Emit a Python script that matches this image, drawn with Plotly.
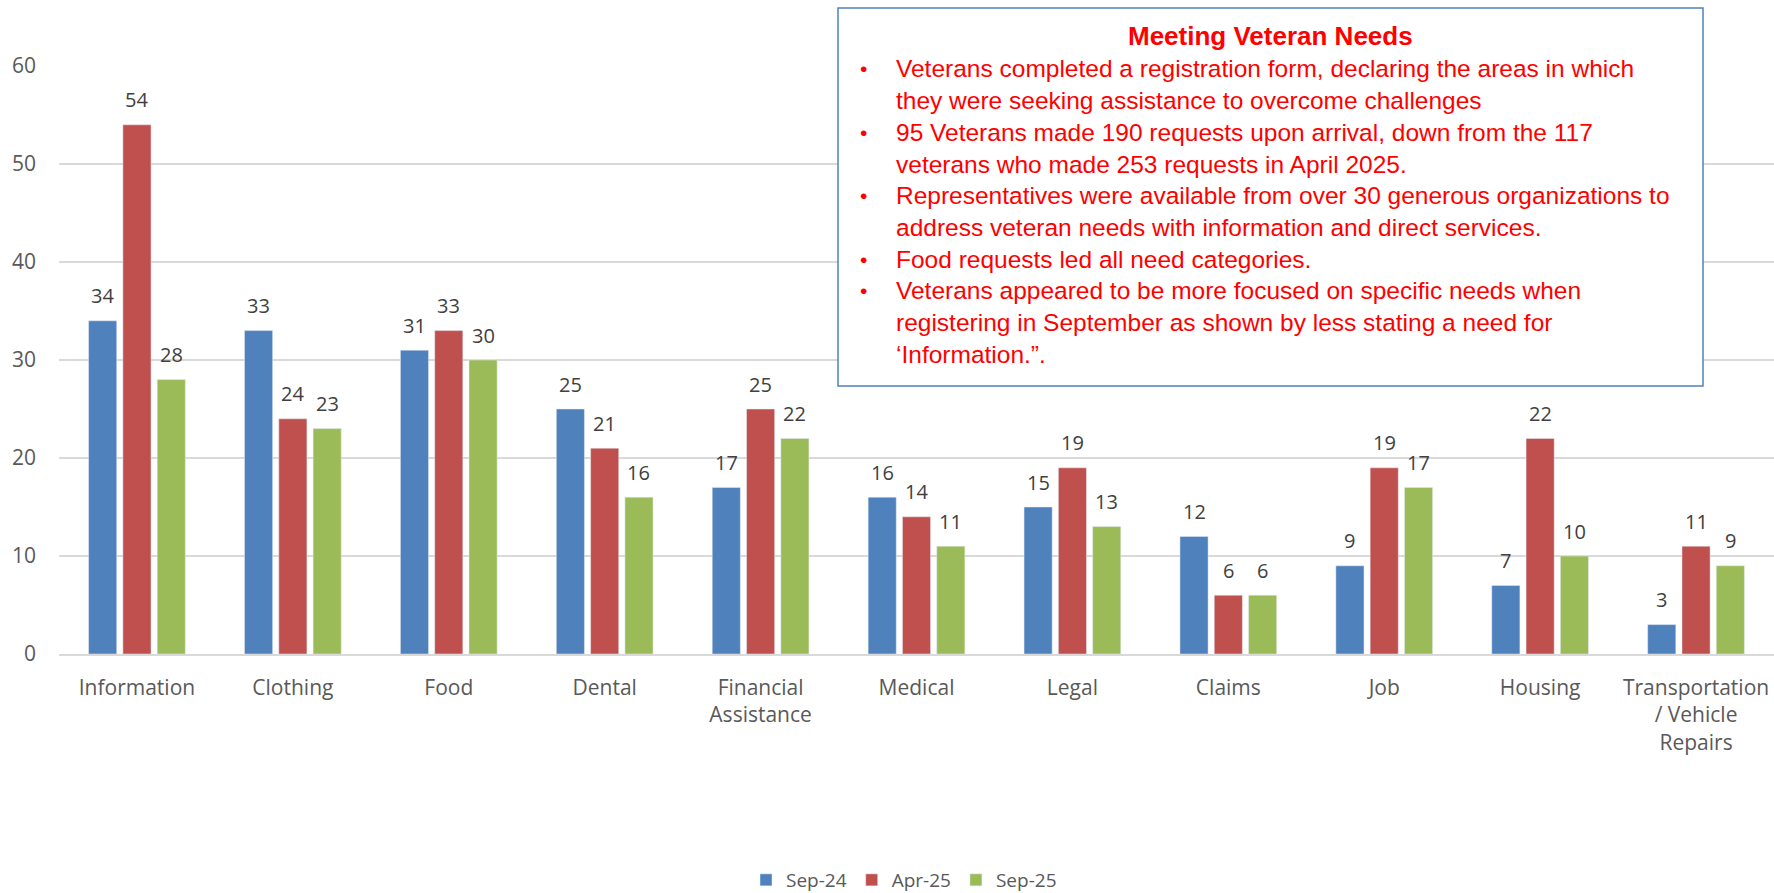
import plotly.graph_objects as go

# data
categories = ["Information", "Clothing", "Food", "Dental", "Financial<br>Assistance", "Medical",
              "Legal", "Claims", "Job", "Housing", "Transportation<br>/ Vehicle<br>Repairs"]
sep24 = [34, 33, 31, 25, 17, 16, 15, 12, 9, 7, 3]
apr25 = [54, 24, 33, 21, 25, 14, 19, 6, 19, 22, 11]
sep25 = [28, 23, 30, 16, 22, 11, 13, 6, 17, 10, 9]
series_names = ["Sep-24", "Apr-25", "Sep-25"]
colors = ["#4F81BD", "#C0504D", "#9BBB59"]

box_title = "Meeting Veteran Needs"
bullets = [
    ["Veterans completed a registration form, declaring the areas in which",
     "they were seeking assistance to overcome challenges"],
    ["95 Veterans made 190 requests upon arrival, down from the 117",
     "veterans who made 253 requests in April 2025."],
    ["Representatives were available from over 30 generous organizations to",
     "address veteran needs with information and direct services."],
    ["Food requests led all need categories."],
    ["Veterans appeared to be more focused on specific needs when",
     "registering in September as shown by less stating a need for",
     "\u2018Information.\u201d."],
]

W, H = 1774, 893
L, R, T, B = 59, 0, 66, 239
plot_h = H - T - B
plot_w = W - L - R
bargap = 0.34


def px_x(x):
    return (x - L) / plot_w


def px_y(y):
    return (H - B - y) / plot_h


fig = go.Figure()
series = [sep24, apr25, sep25]
for name, vals, c in zip(series_names, series, colors):
    fig.add_trace(go.Bar(x=categories, y=vals, name=name, marker_color=c))

# data labels, shifted onto each bar of the group
slot = plot_w / len(categories) * (1 - bargap) / 3
for i, vals in enumerate(series):
    for cat, v in zip(categories, vals):
        fig.add_annotation(x=cat, y=v, text=str(v), showarrow=False, xshift=(i - 1) * slot,
                           yanchor="middle", yshift=25,
                           font=dict(family="Open Sans", size=20, color="#404040"))

box_font = "Liberation Sans"
red = "#FF0000"
# text box
fig.add_shape(type="rect", xref="paper", yref="paper",
              x0=px_x(838), x1=px_x(1703), y0=px_y(386), y1=px_y(8),
              line=dict(color="#4F81BD", width=1.5), fillcolor="white", layer="above")
fig.add_annotation(xref="paper", yref="paper", x=px_x(1270), y=px_y(36), showarrow=False,
                   text="<b>" + box_title + "</b>", xanchor="center", yanchor="middle",
                   font=dict(family=box_font, size=26, color=red))
line_y = 69
for item in bullets:
    fig.add_annotation(xref="paper", yref="paper", x=px_x(863), y=px_y(line_y), showarrow=False,
                       text="\u2022", xanchor="center", yanchor="middle",
                       font=dict(family=box_font, size=21, color=red))
    for ln in item:
        fig.add_annotation(xref="paper", yref="paper", x=px_x(894), y=px_y(line_y), showarrow=False,
                           text=ln, xanchor="left", yanchor="middle",
                           font=dict(family=box_font, size=24.5, color=red))
        line_y += 31.7

fig.update_layout(
    width=W, height=H,
    margin=dict(l=L, r=R, t=T, b=B, autoexpand=False),
    plot_bgcolor="white", paper_bgcolor="white",
    barmode="group", bargap=bargap, bargroupgap=0.18,
    font=dict(family="Open Sans", color="#595959"),
    legend=dict(orientation="h", x=px_x(904), xanchor="center", y=px_y(880), yanchor="middle",
                font=dict(size=19, color="#595959"), itemwidth=30, traceorder="normal"),
    showlegend=True,
)
fig.update_yaxes(range=[0, 60], dtick=10, showgrid=True, gridcolor="#D9D9D9", gridwidth=1.5,
                 zeroline=False, showline=False, tickfont=dict(size=21, color="#595959"),
                 ticklabelstandoff=22)
fig.update_xaxes(showline=True, linecolor="#D9D9D9", linewidth=1.5, showgrid=False,
                 tickfont=dict(size=21, color="#595959"), ticklabelstandoff=14, tickangle=0)

fig.write_html("out.html", config={"displayModeBar": False},
               post_script="document.body.style.margin='0px';")
